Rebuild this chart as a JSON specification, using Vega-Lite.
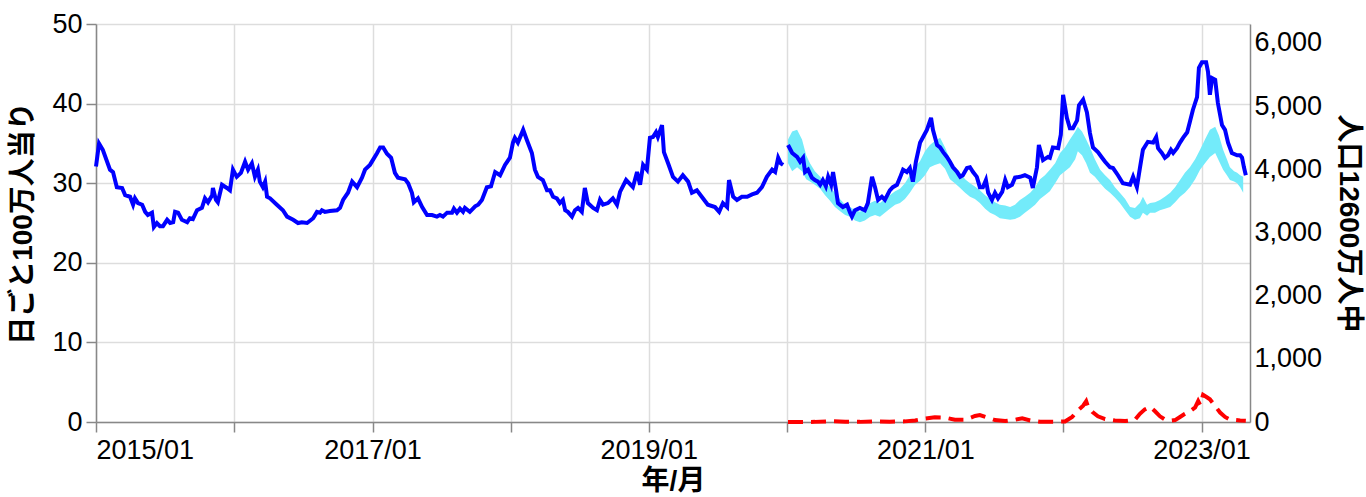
{
"$schema":"https://vega.github.io/schema/vega-lite/v6.json",
"width":1154,"height":398,
"autosize":{"type":"none"},
"padding":{"left":96,"top":24,"right":116,"bottom":75},
"background":"white",
"config":{"view":{"stroke":null},
"axis":{"labelFont":"Liberation Sans","labelFontSize":27,"labelColor":"#000","titleFont":"Liberation Sans, Noto Sans CJK JP","titleFontSize":28,"titleFontWeight":"bold","titleColor":"#000","domainColor":"#888","domainWidth":1.5,"tickColor":"#888","tickWidth":1.5,"tickSize":10,"gridColor":"#ddd","gridWidth":1.5}},
"datasets":{
"blue":[
{"d":"2015-01-01","v":32.1,"s":"a"},{"d":"2015-01-09","v":35.0,"s":"a"},{"d":"2015-01-19","v":34.2,"s":"a"},{"d":"2015-02-07","v":31.7,"s":"a"},{"d":"2015-02-15","v":31.4,"s":"a"},{"d":"2015-02-25","v":29.5,"s":"a"},{"d":"2015-03-11","v":29.4,"s":"a"},{"d":"2015-03-19","v":28.5,"s":"a"},{"d":"2015-04-01","v":28.3,"s":"a"},{"d":"2015-04-09","v":27.3,"s":"a"},{"d":"2015-04-14","v":28.1,"s":"a"},{"d":"2015-04-22","v":27.5,"s":"a"},{"d":"2015-05-03","v":27.3,"s":"a"},{"d":"2015-05-11","v":26.4,"s":"a"},{"d":"2015-05-18","v":26.0,"s":"a"},{"d":"2015-05-29","v":26.3,"s":"a"},{"d":"2015-06-03","v":24.5,"s":"a"},{"d":"2015-06-11","v":25.0,"s":"a"},{"d":"2015-06-19","v":24.6,"s":"a"},{"d":"2015-06-27","v":24.6,"s":"a"},{"d":"2015-07-08","v":25.4,"s":"a"},{"d":"2015-07-16","v":25.0,"s":"a"},{"d":"2015-07-24","v":25.1,"s":"a"},{"d":"2015-07-29","v":26.4,"s":"a"},{"d":"2015-08-06","v":26.3,"s":"a"},{"d":"2015-08-16","v":25.4,"s":"a"},{"d":"2015-08-30","v":25.1,"s":"a"},{"d":"2015-09-06","v":25.6,"s":"a"},{"d":"2015-09-14","v":25.5,"s":"a"},{"d":"2015-09-25","v":26.6,"s":"a"},{"d":"2015-10-08","v":26.9,"s":"a"},{"d":"2015-10-16","v":28.1,"s":"a"},{"d":"2015-10-24","v":27.6,"s":"a"},{"d":"2015-11-04","v":28.5,"s":"a"},{"d":"2015-11-06","v":29.4,"s":"a"},{"d":"2015-11-14","v":27.9,"s":"a"},{"d":"2015-11-19","v":27.6,"s":"a"},{"d":"2015-11-30","v":29.8,"s":"a"},{"d":"2015-12-13","v":29.4,"s":"a"},{"d":"2015-12-21","v":29.1,"s":"a"},{"d":"2015-12-29","v":31.7,"s":"a"},{"d":"2016-01-08","v":30.8,"s":"a"},{"d":"2016-01-19","v":31.3,"s":"a"},{"d":"2016-01-30","v":32.7,"s":"a"},{"d":"2016-02-07","v":31.7,"s":"a"},{"d":"2016-02-17","v":32.5,"s":"a"},{"d":"2016-02-25","v":30.8,"s":"a"},{"d":"2016-03-04","v":31.7,"s":"a"},{"d":"2016-03-09","v":30.2,"s":"a"},{"d":"2016-03-17","v":29.5,"s":"a"},{"d":"2016-03-23","v":30.2,"s":"a"},{"d":"2016-03-28","v":28.3,"s":"a"},{"d":"2016-04-05","v":28.1,"s":"a"},{"d":"2016-04-23","v":27.3,"s":"a"},{"d":"2016-05-09","v":26.6,"s":"a"},{"d":"2016-05-20","v":25.8,"s":"a"},{"d":"2016-06-05","v":25.4,"s":"a"},{"d":"2016-06-18","v":25.0,"s":"a"},{"d":"2016-06-28","v":25.1,"s":"a"},{"d":"2016-07-12","v":25.0,"s":"a"},{"d":"2016-07-28","v":25.6,"s":"a"},{"d":"2016-08-07","v":26.4,"s":"a"},{"d":"2016-08-15","v":26.3,"s":"a"},{"d":"2016-08-20","v":26.6,"s":"a"},{"d":"2016-08-28","v":26.4,"s":"a"},{"d":"2016-09-10","v":26.5,"s":"a"},{"d":"2016-09-29","v":26.6,"s":"a"},{"d":"2016-10-07","v":26.9,"s":"a"},{"d":"2016-10-15","v":27.9,"s":"a"},{"d":"2016-10-28","v":28.8,"s":"a"},{"d":"2016-11-08","v":30.2,"s":"a"},{"d":"2016-11-21","v":29.5,"s":"a"},{"d":"2016-12-04","v":30.7,"s":"a"},{"d":"2016-12-12","v":31.7,"s":"a"},{"d":"2016-12-25","v":32.3,"s":"a"},{"d":"2017-01-13","v":33.8,"s":"a"},{"d":"2017-01-21","v":34.5,"s":"a"},{"d":"2017-01-29","v":34.5,"s":"a"},{"d":"2017-02-08","v":33.7,"s":"a"},{"d":"2017-02-19","v":33.2,"s":"a"},{"d":"2017-03-01","v":31.3,"s":"a"},{"d":"2017-03-09","v":30.7,"s":"a"},{"d":"2017-03-28","v":30.5,"s":"a"},{"d":"2017-04-05","v":30.0,"s":"a"},{"d":"2017-04-15","v":28.8,"s":"a"},{"d":"2017-04-20","v":27.6,"s":"a"},{"d":"2017-05-01","v":28.1,"s":"a"},{"d":"2017-05-12","v":27.0,"s":"a"},{"d":"2017-05-25","v":26.0,"s":"a"},{"d":"2017-06-07","v":26.0,"s":"a"},{"d":"2017-06-20","v":25.8,"s":"a"},{"d":"2017-06-28","v":26.0,"s":"a"},{"d":"2017-07-06","v":25.8,"s":"a"},{"d":"2017-07-17","v":26.3,"s":"a"},{"d":"2017-07-30","v":26.3,"s":"a"},{"d":"2017-08-04","v":26.8,"s":"a"},{"d":"2017-08-12","v":26.3,"s":"a"},{"d":"2017-08-20","v":26.8,"s":"a"},{"d":"2017-08-28","v":26.4,"s":"a"},{"d":"2017-09-02","v":26.9,"s":"a"},{"d":"2017-09-15","v":26.4,"s":"a"},{"d":"2017-09-29","v":27.1,"s":"a"},{"d":"2017-10-07","v":27.3,"s":"a"},{"d":"2017-10-17","v":27.9,"s":"a"},{"d":"2017-10-30","v":29.5,"s":"a"},{"d":"2017-11-10","v":29.6,"s":"a"},{"d":"2017-11-21","v":31.4,"s":"a"},{"d":"2017-12-04","v":31.0,"s":"a"},{"d":"2017-12-17","v":32.3,"s":"a"},{"d":"2017-12-30","v":33.2,"s":"a"},{"d":"2018-01-07","v":35.1,"s":"a"},{"d":"2018-01-12","v":35.7,"s":"a"},{"d":"2018-01-20","v":35.1,"s":"a"},{"d":"2018-02-03","v":36.7,"s":"a"},{"d":"2018-02-13","v":35.4,"s":"a"},{"d":"2018-02-26","v":33.8,"s":"a"},{"d":"2018-03-06","v":31.7,"s":"a"},{"d":"2018-03-14","v":30.8,"s":"a"},{"d":"2018-03-27","v":30.4,"s":"a"},{"d":"2018-04-07","v":29.1,"s":"a"},{"d":"2018-04-15","v":29.1,"s":"a"},{"d":"2018-04-23","v":28.3,"s":"a"},{"d":"2018-05-03","v":28.1,"s":"a"},{"d":"2018-05-11","v":27.5,"s":"a"},{"d":"2018-05-19","v":27.9,"s":"a"},{"d":"2018-05-25","v":26.6,"s":"a"},{"d":"2018-06-01","v":26.4,"s":"a"},{"d":"2018-06-12","v":25.8,"s":"a"},{"d":"2018-06-20","v":26.6,"s":"a"},{"d":"2018-06-28","v":26.9,"s":"a"},{"d":"2018-07-08","v":26.4,"s":"a"},{"d":"2018-07-16","v":29.4,"s":"a"},{"d":"2018-07-24","v":27.5,"s":"a"},{"d":"2018-08-07","v":26.9,"s":"a"},{"d":"2018-08-17","v":26.6,"s":"a"},{"d":"2018-08-25","v":27.9,"s":"a"},{"d":"2018-09-02","v":27.3,"s":"a"},{"d":"2018-09-15","v":27.5,"s":"a"},{"d":"2018-09-28","v":28.1,"s":"a"},{"d":"2018-10-09","v":27.3,"s":"a"},{"d":"2018-10-17","v":28.9,"s":"a"},{"d":"2018-11-02","v":30.4,"s":"a"},{"d":"2018-11-10","v":30.0,"s":"a"},{"d":"2018-11-20","v":29.5,"s":"a"},{"d":"2018-12-01","v":31.4,"s":"a"},{"d":"2018-12-09","v":29.8,"s":"a"},{"d":"2018-12-17","v":32.3,"s":"a"},{"d":"2018-12-27","v":31.7,"s":"a"},{"d":"2019-01-04","v":35.7,"s":"a"},{"d":"2019-01-12","v":35.8,"s":"a"},{"d":"2019-01-20","v":36.4,"s":"a"},{"d":"2019-01-25","v":35.8,"s":"a"},{"d":"2019-02-05","v":37.3,"s":"a"},{"d":"2019-02-10","v":33.9,"s":"a"},{"d":"2019-02-21","v":32.5,"s":"a"},{"d":"2019-03-06","v":30.8,"s":"a"},{"d":"2019-03-19","v":30.2,"s":"a"},{"d":"2019-04-01","v":31.0,"s":"a"},{"d":"2019-04-15","v":30.2,"s":"a"},{"d":"2019-04-25","v":28.8,"s":"a"},{"d":"2019-05-08","v":29.1,"s":"a"},{"d":"2019-05-24","v":28.1,"s":"a"},{"d":"2019-06-06","v":27.3,"s":"a"},{"d":"2019-06-25","v":27.0,"s":"a"},{"d":"2019-07-06","v":26.4,"s":"a"},{"d":"2019-07-16","v":27.5,"s":"a"},{"d":"2019-07-27","v":27.0,"s":"a"},{"d":"2019-08-01","v":30.4,"s":"a"},{"d":"2019-08-12","v":28.3,"s":"a"},{"d":"2019-08-22","v":27.9,"s":"a"},{"d":"2019-09-04","v":28.3,"s":"a"},{"d":"2019-09-18","v":28.3,"s":"a"},{"d":"2019-10-01","v":28.6,"s":"a"},{"d":"2019-10-14","v":28.8,"s":"a"},{"d":"2019-10-27","v":29.5,"s":"a"},{"d":"2019-11-09","v":30.8,"s":"a"},{"d":"2019-11-23","v":31.7,"s":"a"},{"d":"2019-12-01","v":31.4,"s":"a"},{"d":"2019-12-09","v":33.2,"s":"a"},{"d":"2019-12-16","v":32.5,"s":"a"},{"d":"2019-12-22","v":32.3,"s":"a"},
{"d":"2020-01-04","v":34.8,"s":"b"},{"d":"2020-01-15","v":33.8,"s":"b"},{"d":"2020-01-28","v":33.3,"s":"b"},{"d":"2020-02-05","v":32.7,"s":"b"},{"d":"2020-02-13","v":33.2,"s":"b"},{"d":"2020-02-18","v":31.4,"s":"b"},{"d":"2020-02-26","v":31.7,"s":"b"},{"d":"2020-03-07","v":30.7,"s":"b"},{"d":"2020-03-15","v":30.4,"s":"b"},{"d":"2020-03-23","v":30.2,"s":"b"},{"d":"2020-03-29","v":29.8,"s":"b"},{"d":"2020-04-05","v":30.4,"s":"b"},{"d":"2020-04-13","v":29.6,"s":"b"},{"d":"2020-04-19","v":30.8,"s":"b"},{"d":"2020-04-27","v":29.8,"s":"b"},{"d":"2020-05-02","v":31.4,"s":"b"},{"d":"2020-05-10","v":29.1,"s":"b"},{"d":"2020-05-15","v":27.5,"s":"b"},{"d":"2020-05-28","v":27.0,"s":"b"},{"d":"2020-06-08","v":27.3,"s":"b"},{"d":"2020-06-16","v":26.3,"s":"b"},{"d":"2020-06-21","v":25.8,"s":"b"},{"d":"2020-06-29","v":26.6,"s":"b"},{"d":"2020-07-12","v":26.9,"s":"b"},{"d":"2020-07-25","v":26.6,"s":"b"},{"d":"2020-08-02","v":27.5,"s":"b"},{"d":"2020-08-13","v":30.8,"s":"b"},{"d":"2020-08-21","v":29.5,"s":"b"},{"d":"2020-08-29","v":27.9,"s":"b"},{"d":"2020-09-08","v":28.3,"s":"b"},{"d":"2020-09-16","v":27.9,"s":"b"},{"d":"2020-09-29","v":29.1,"s":"b"},{"d":"2020-10-07","v":29.5,"s":"b"},{"d":"2020-10-18","v":29.8,"s":"b"},{"d":"2020-10-26","v":30.7,"s":"b"},{"d":"2020-11-03","v":31.7,"s":"b"},{"d":"2020-11-13","v":31.4,"s":"b"},{"d":"2020-11-21","v":31.9,"s":"b"},{"d":"2020-11-29","v":30.2,"s":"b"},{"d":"2020-12-07","v":32.7,"s":"b"},{"d":"2020-12-18","v":35.1,"s":"b"},{"d":"2020-12-26","v":35.8,"s":"b"},{"d":"2021-01-05","v":36.7,"s":"b"},{"d":"2021-01-16","v":38.2,"s":"b"},{"d":"2021-01-21","v":36.7,"s":"b"},{"d":"2021-02-01","v":34.8,"s":"b"},{"d":"2021-02-09","v":34.5,"s":"b"},{"d":"2021-02-17","v":33.9,"s":"b"},{"d":"2021-02-27","v":33.3,"s":"b"},{"d":"2021-03-07","v":32.7,"s":"b"},{"d":"2021-03-15","v":32.0,"s":"b"},{"d":"2021-03-26","v":31.4,"s":"b"},{"d":"2021-04-03","v":30.8,"s":"b"},{"d":"2021-04-10","v":31.0,"s":"b"},{"d":"2021-04-21","v":31.9,"s":"b"},{"d":"2021-04-29","v":32.0,"s":"b"},{"d":"2021-05-07","v":31.4,"s":"b"},{"d":"2021-05-17","v":30.8,"s":"b"},{"d":"2021-05-25","v":29.5,"s":"b"},{"d":"2021-06-02","v":29.5,"s":"b"},{"d":"2021-06-10","v":30.4,"s":"b"},{"d":"2021-06-16","v":28.8,"s":"b"},{"d":"2021-06-26","v":27.9,"s":"b"},{"d":"2021-07-04","v":28.8,"s":"b"},{"d":"2021-07-12","v":28.1,"s":"b"},{"d":"2021-07-23","v":28.9,"s":"b"},{"d":"2021-07-31","v":30.4,"s":"b"},{"d":"2021-08-07","v":29.5,"s":"b"},{"d":"2021-08-18","v":29.8,"s":"b"},{"d":"2021-08-26","v":30.7,"s":"b"},{"d":"2021-09-08","v":30.8,"s":"b"},{"d":"2021-09-21","v":31.0,"s":"b"},{"d":"2021-10-05","v":30.7,"s":"b"},{"d":"2021-10-12","v":29.4,"s":"b"},{"d":"2021-10-23","v":32.0,"s":"b"},{"d":"2021-10-28","v":34.8,"s":"b"},{"d":"2021-11-08","v":32.9,"s":"b"},{"d":"2021-11-21","v":33.3,"s":"b"},{"d":"2021-11-26","v":33.2,"s":"b"},{"d":"2021-12-04","v":34.5,"s":"b"},{"d":"2021-12-18","v":34.4,"s":"b"},{"d":"2021-12-25","v":36.1,"s":"b"},{"d":"2021-12-31","v":41.1,"s":"b"},{"d":"2022-01-10","v":38.2,"s":"b"},{"d":"2022-01-18","v":36.9,"s":"b"},{"d":"2022-01-26","v":36.9,"s":"b"},{"d":"2022-02-06","v":37.9,"s":"b"},{"d":"2022-02-11","v":39.8,"s":"b"},{"d":"2022-02-22","v":40.5,"s":"b"},{"d":"2022-03-04","v":38.9,"s":"b"},{"d":"2022-03-12","v":36.3,"s":"b"},{"d":"2022-03-20","v":34.5,"s":"b"},{"d":"2022-04-02","v":33.9,"s":"b"},{"d":"2022-04-13","v":33.2,"s":"b"},{"d":"2022-04-21","v":32.7,"s":"b"},{"d":"2022-05-04","v":32.0,"s":"b"},{"d":"2022-05-12","v":31.9,"s":"b"},{"d":"2022-05-25","v":31.0,"s":"b"},{"d":"2022-06-07","v":30.0,"s":"b"},{"d":"2022-06-26","v":29.8,"s":"b"},{"d":"2022-07-04","v":30.8,"s":"b"},{"d":"2022-07-14","v":29.5,"s":"b"},{"d":"2022-07-22","v":31.9,"s":"b"},{"d":"2022-07-30","v":34.2,"s":"b"},{"d":"2022-08-12","v":35.2,"s":"b"},{"d":"2022-08-26","v":35.1,"s":"b"},{"d":"2022-09-03","v":35.8,"s":"b"},{"d":"2022-09-08","v":34.4,"s":"b"},{"d":"2022-09-18","v":33.8,"s":"b"},{"d":"2022-09-26","v":33.2,"s":"b"},{"d":"2022-10-04","v":33.5,"s":"b"},{"d":"2022-10-12","v":34.2,"s":"b"},{"d":"2022-10-18","v":33.8,"s":"b"},{"d":"2022-10-28","v":34.4,"s":"b"},{"d":"2022-11-05","v":35.1,"s":"b"},{"d":"2022-11-13","v":35.7,"s":"b"},{"d":"2022-11-24","v":36.4,"s":"b"},{"d":"2022-12-01","v":37.7,"s":"b"},{"d":"2022-12-09","v":39.2,"s":"b"},{"d":"2022-12-20","v":40.8,"s":"b"},{"d":"2022-12-25","v":44.5,"s":"b"},{"d":"2023-01-02","v":45.2,"s":"b"},{"d":"2023-01-13","v":45.2,"s":"b"},{"d":"2023-01-18","v":44.0,"s":"b"},{"d":"2023-01-23","v":41.1,"s":"b"},{"d":"2023-01-29","v":43.2,"s":"b"},{"d":"2023-02-06","v":43.0,"s":"b"},{"d":"2023-02-13","v":40.1,"s":"b"},{"d":"2023-02-24","v":37.3,"s":"b"},{"d":"2023-03-04","v":36.7,"s":"b"},{"d":"2023-03-12","v":35.1,"s":"b"},{"d":"2023-03-22","v":33.8,"s":"b"},{"d":"2023-04-05","v":33.5,"s":"b"},{"d":"2023-04-13","v":33.5,"s":"b"},{"d":"2023-04-18","v":33.2,"s":"b"},{"d":"2023-04-23","v":32.0,"s":"b"},{"d":"2023-04-28","v":31.0,"s":"b"}
],
"band":[
{"d":"2020-01-04","hi":35.5,"lo":32.5},{"d":"2020-01-15","hi":36.5,"lo":31.5},{"d":"2020-01-28","hi":36.7,"lo":32.0},{"d":"2020-02-10","hi":35.5,"lo":31.5},{"d":"2020-02-21","hi":33.5,"lo":30.5},{"d":"2020-03-02","hi":32.5,"lo":30.2},{"d":"2020-03-15","hi":31.5,"lo":29.8},{"d":"2020-03-29","hi":30.8,"lo":29.3},{"d":"2020-04-11","hi":30.0,"lo":28.5},{"d":"2020-04-24","hi":29.5,"lo":27.8},{"d":"2020-05-07","hi":28.8,"lo":27.0},{"d":"2020-05-20","hi":28.0,"lo":26.5},{"d":"2020-06-03","hi":27.3,"lo":26.0},{"d":"2020-06-16","hi":27.0,"lo":25.8},{"d":"2020-06-29","hi":26.6,"lo":25.3},{"d":"2020-07-12","hi":26.4,"lo":25.1},{"d":"2020-07-25","hi":26.8,"lo":25.3},{"d":"2020-08-08","hi":27.5,"lo":25.8},{"d":"2020-08-21","hi":27.8,"lo":26.0},{"d":"2020-09-03","hi":27.5,"lo":25.8},{"d":"2020-09-16","hi":28.0,"lo":26.3},{"d":"2020-09-29","hi":28.5,"lo":26.8},{"d":"2020-10-13","hi":29.0,"lo":27.3},{"d":"2020-10-26","hi":29.3,"lo":27.5},{"d":"2020-11-08","hi":30.0,"lo":28.0},{"d":"2020-11-21","hi":31.0,"lo":28.8},{"d":"2020-12-05","hi":32.0,"lo":29.8},{"d":"2020-12-18","hi":32.8,"lo":30.3},{"d":"2020-12-31","hi":34.0,"lo":31.0},{"d":"2021-01-13","hi":34.8,"lo":32.0},{"d":"2021-01-26","hi":35.3,"lo":32.3},{"d":"2021-02-09","hi":35.7,"lo":32.5},{"d":"2021-02-22","hi":34.5,"lo":31.8},{"d":"2021-03-07","hi":33.0,"lo":30.5},{"d":"2021-03-20","hi":32.0,"lo":30.0},{"d":"2021-04-03","hi":31.3,"lo":29.4},{"d":"2021-04-16","hi":30.5,"lo":28.8},{"d":"2021-04-29","hi":30.0,"lo":28.3},{"d":"2021-05-12","hi":29.6,"lo":28.0},{"d":"2021-05-25","hi":29.1,"lo":27.5},{"d":"2021-06-08","hi":28.5,"lo":26.8},{"d":"2021-06-21","hi":28.0,"lo":26.3},{"d":"2021-07-04","hi":27.6,"lo":26.0},{"d":"2021-07-17","hi":27.3,"lo":25.6},{"d":"2021-07-31","hi":27.2,"lo":25.5},{"d":"2021-08-13","hi":27.0,"lo":25.4},{"d":"2021-08-26","hi":27.3,"lo":25.5},{"d":"2021-09-08","hi":27.9,"lo":25.8},{"d":"2021-09-21","hi":28.3,"lo":26.3},{"d":"2021-10-05","hi":28.8,"lo":26.8},{"d":"2021-10-18","hi":29.5,"lo":27.3},{"d":"2021-10-31","hi":30.5,"lo":28.0},{"d":"2021-11-13","hi":31.0,"lo":28.5},{"d":"2021-11-26","hi":31.7,"lo":29.0},{"d":"2021-12-10","hi":32.5,"lo":30.0},{"d":"2021-12-23","hi":33.8,"lo":31.0},{"d":"2022-01-05","hi":34.5,"lo":31.5},{"d":"2022-01-18","hi":35.5,"lo":32.0},{"d":"2022-02-01","hi":36.5,"lo":33.0},{"d":"2022-02-08","hi":37.1,"lo":34.0},{"d":"2022-02-19","hi":36.5,"lo":33.5},{"d":"2022-03-02","hi":35.5,"lo":32.5},{"d":"2022-03-12","hi":34.5,"lo":31.3},{"d":"2022-03-25","hi":33.0,"lo":30.8},{"d":"2022-04-08","hi":31.7,"lo":30.0},{"d":"2022-04-21","hi":31.0,"lo":29.3},{"d":"2022-05-04","hi":30.4,"lo":28.8},{"d":"2022-05-17","hi":29.5,"lo":28.2},{"d":"2022-05-30","hi":28.8,"lo":27.5},{"d":"2022-06-13","hi":28.0,"lo":26.6},{"d":"2022-06-26","hi":27.0,"lo":25.8},{"d":"2022-07-09","hi":26.9,"lo":25.4},{"d":"2022-07-22","hi":27.5,"lo":25.6},{"d":"2022-07-30","hi":28.3,"lo":26.3},{"d":"2022-08-10","hi":27.3,"lo":25.9},{"d":"2022-08-18","hi":27.5,"lo":26.3},{"d":"2022-08-31","hi":27.6,"lo":26.3},{"d":"2022-09-13","hi":27.9,"lo":26.6},{"d":"2022-09-26","hi":28.3,"lo":26.8},{"d":"2022-10-10","hi":28.8,"lo":27.0},{"d":"2022-10-23","hi":29.5,"lo":27.6},{"d":"2022-11-05","hi":30.4,"lo":28.3},{"d":"2022-11-18","hi":31.3,"lo":28.8},{"d":"2022-12-01","hi":32.0,"lo":29.5},{"d":"2022-12-15","hi":33.0,"lo":30.5},{"d":"2022-12-28","hi":34.2,"lo":31.7},{"d":"2023-01-10","hi":35.5,"lo":32.5},{"d":"2023-01-23","hi":36.7,"lo":33.3},{"d":"2023-02-06","hi":37.1,"lo":33.8},{"d":"2023-02-16","hi":36.0,"lo":32.8},{"d":"2023-02-27","hi":34.2,"lo":31.7},{"d":"2023-03-09","hi":33.0,"lo":31.0},{"d":"2023-03-17","hi":32.0,"lo":30.4},{"d":"2023-03-28","hi":31.5,"lo":30.2},{"d":"2023-04-05","hi":31.3,"lo":30.0},{"d":"2023-04-13","hi":31.0,"lo":29.5},{"d":"2023-04-21","hi":30.8,"lo":28.8}
],
"red":[
{"d":"2020-01-04","c":0},{"d":"2020-02-05","c":0},{"d":"2020-03-15","c":2},{"d":"2020-04-24","c":12},{"d":"2020-06-03","c":5},{"d":"2020-07-12","c":2},{"d":"2020-08-21","c":10},{"d":"2020-09-29","c":5},{"d":"2020-11-08","c":10},{"d":"2020-12-05","c":25},{"d":"2020-12-31","c":55},{"d":"2021-01-26","c":75},{"d":"2021-02-22","c":70},{"d":"2021-03-20","c":35},{"d":"2021-04-16","c":35},{"d":"2021-05-12","c":95},{"d":"2021-05-25","c":110},{"d":"2021-06-12","c":75},{"d":"2021-07-04","c":30},{"d":"2021-07-31","c":15},{"d":"2021-08-26","c":35},{"d":"2021-09-14","c":60},{"d":"2021-10-05","c":25},{"d":"2021-10-31","c":5},{"d":"2021-12-10","c":3},{"d":"2022-01-05","c":8},{"d":"2022-01-24","c":80},{"d":"2022-02-08","c":180},{"d":"2022-02-22","c":260},{"d":"2022-03-02","c":330},{"d":"2022-03-07","c":240},{"d":"2022-03-18","c":160},{"d":"2022-04-02","c":90},{"d":"2022-04-21","c":45},{"d":"2022-05-17","c":25},{"d":"2022-06-13","c":15},{"d":"2022-07-09","c":35},{"d":"2022-07-22","c":130},{"d":"2022-08-04","c":200},{"d":"2022-08-18","c":240},{"d":"2022-08-31","c":170},{"d":"2022-09-13","c":90},{"d":"2022-09-26","c":40},{"d":"2022-10-10","c":20},{"d":"2022-10-23","c":30},{"d":"2022-11-05","c":80},{"d":"2022-11-18","c":130},{"d":"2022-12-01","c":170},{"d":"2022-12-15","c":230},{"d":"2022-12-23","c":330},{"d":"2022-12-28","c":270},{"d":"2023-01-05","c":430},{"d":"2023-01-13","c":400},{"d":"2023-01-23","c":360},{"d":"2023-02-06","c":250},{"d":"2023-02-19","c":150},{"d":"2023-03-04","c":80},{"d":"2023-03-17","c":40},{"d":"2023-04-13","c":25},{"d":"2023-04-28","c":20}
]
},
"layer":[
{"layer":[
{"data":{"name":"band"},"mark":{"type":"area","color":"#73ebfa","opacity":1},
"encoding":{
"x":{"field":"d","type":"temporal","title":"年/月","scale":{"type":"utc","domain":[{"year":2015,"month":1,"date":1,"utc":true},{"year":2023,"month":5,"date":9,"utc":true}]},
"axis":{"tickCount":{"interval":"year","step":1},"labelExpr":"utcyear(datum.value) % 2 == 1 ? utcFormat(datum.value, '%Y/%m') : ''","labelFlush":true,"labelOverlap":false,"labelPadding":5,"grid":true}},
"y":{"field":"hi","type":"quantitative","title":"日ごと100万人当り","scale":{"domain":[0,50]},"axis":{"values":[0,10,20,30,40,50],"labelPadding":4,"grid":true,"titlePadding":14}},
"y2":{"field":"lo"}}},
{"data":{"name":"blue"},"mark":{"type":"line","color":"#0000ff","strokeWidth":4},
"encoding":{
"x":{"field":"d","type":"temporal","title":"年/月"},
"y":{"field":"v","type":"quantitative","title":"日ごと100万人当り"},
"detail":{"field":"s"}}}
]},
{"data":{"name":"red"},"mark":{"type":"line","color":"#ff0000","strokeWidth":4,"strokeDash":[15,8]},
"encoding":{
"x":{"field":"d","type":"temporal","title":"年/月"},
"y":{"field":"c","type":"quantitative","title":"人口12600万人中","scale":{"domain":[0,6300]},"axis":{"orient":"right","values":[0,1000,2000,3000,4000,5000,6000],"format":",d","ticks":false,"labelPadding":4,"grid":false,"titlePadding":12}}}}
],
"resolve":{"scale":{"y":"independent"}}
}
